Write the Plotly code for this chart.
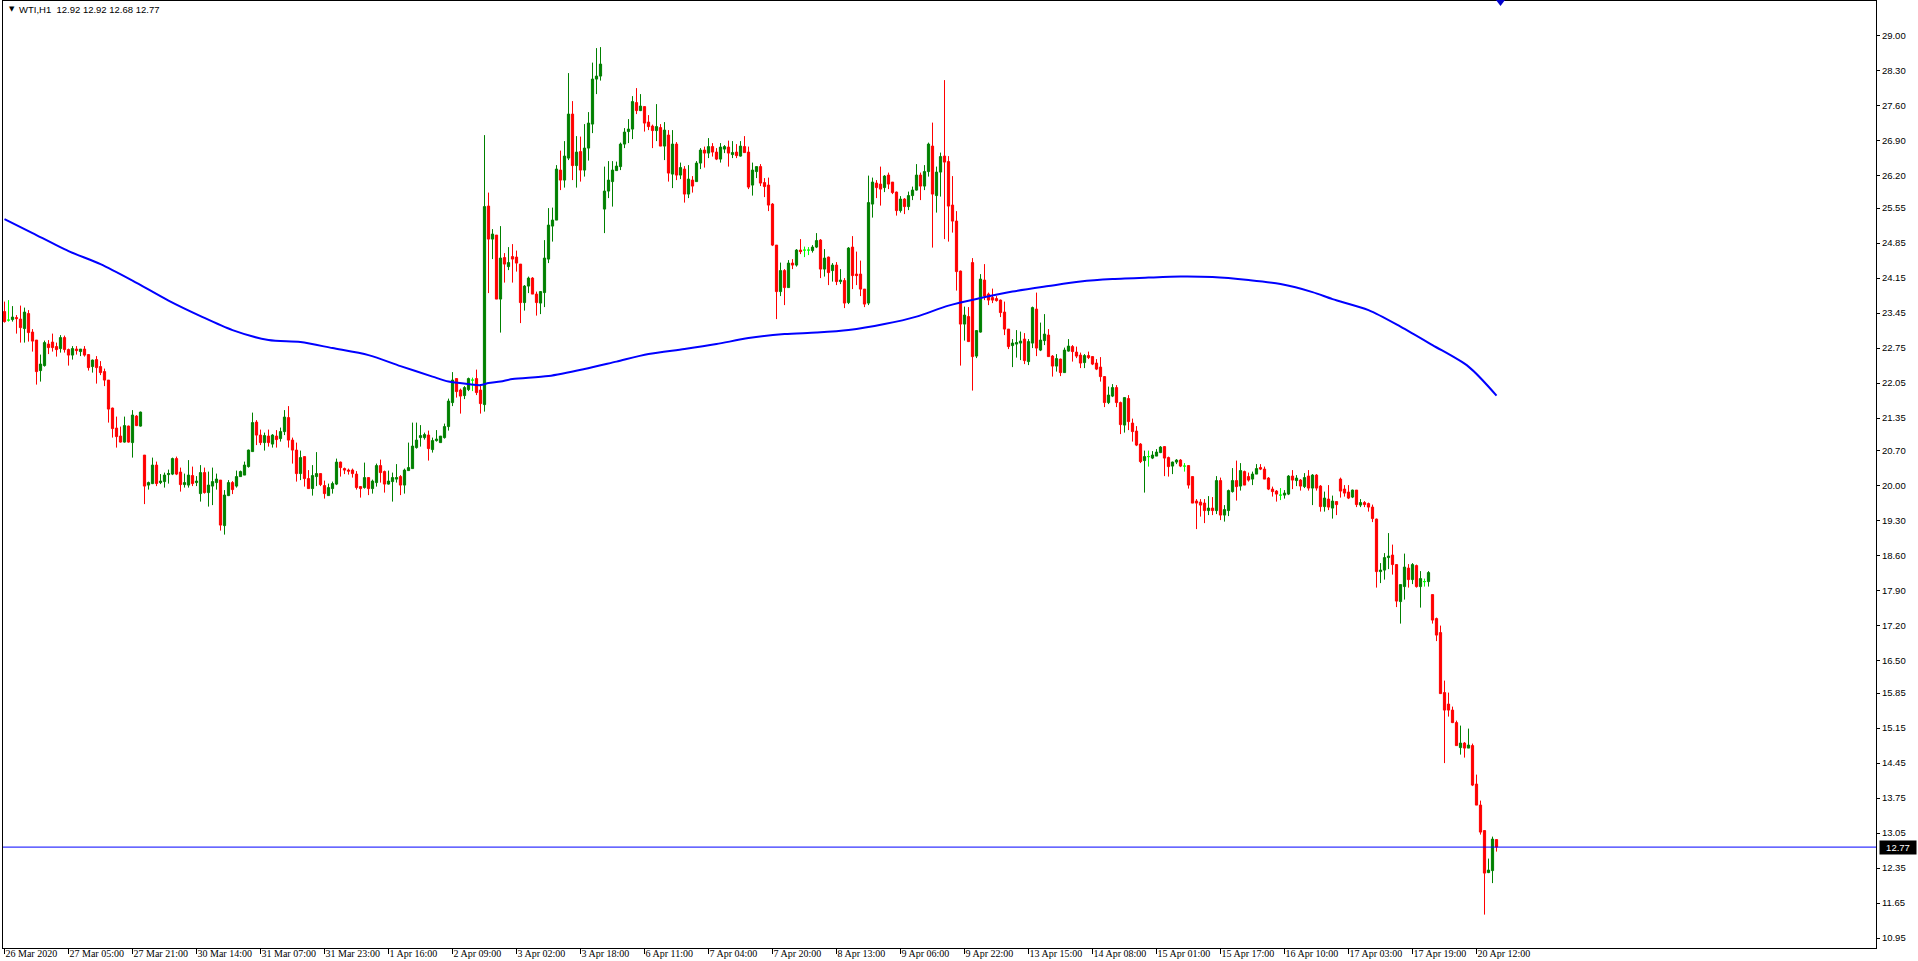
import plotly.graph_objects as go

symbol = "WTI,H1"

time_labels = ["26 Mar 2020", "27 Mar 05:00", "27 Mar 21:00", "30 Mar 14:00", "31 Mar 07:00",
               "31 Mar 23:00", "1 Apr 16:00", "2 Apr 09:00", "3 Apr 02:00", "3 Apr 18:00",
               "6 Apr 11:00", "7 Apr 04:00", "7 Apr 20:00", "8 Apr 13:00", "9 Apr 06:00",
               "9 Apr 22:00", "13 Apr 15:00", "14 Apr 08:00", "15 Apr 01:00", "15 Apr 17:00",
               "16 Apr 10:00", "17 Apr 03:00", "17 Apr 19:00", "20 Apr 12:00"]
time_label_bars = [0, 16, 32, 48, 64, 80, 96, 112, 128, 144, 160, 176, 192, 208, 224,
                   240, 256, 272, 288, 304, 320, 336, 352, 368]

price_ticks = [29.00, 28.30, 27.60, 26.90, 26.20, 25.55, 24.85, 24.15, 23.45, 22.75, 22.05,
               21.35, 20.70, 20.00, 19.30, 18.60, 17.90, 17.20, 16.50, 15.85, 15.15, 14.45,
               13.75, 13.05, 12.35, 11.65, 10.95]

opens = [
 23.48, 23.31, 23.32, 23.36, 23.33, 23.14, 23.44, 23.07, 22.91, 22.30,
 22.40, 22.83, 22.87, 22.78, 22.74, 22.96, 22.72, 22.61, 22.73, 22.68,
 22.73, 22.62, 22.38, 22.52, 22.38, 22.28, 22.11, 21.55, 21.15, 20.99,
 20.87, 21.19, 20.86, 21.39, 21.19, 20.61, 20.01, 20.04, 20.41, 20.06,
 20.08, 20.22, 20.23, 20.54, 20.27, 20.02, 20.01, 20.20, 20.06, 19.84,
 20.26, 19.86, 19.99, 20.06, 20.11, 19.20, 19.80, 20.06, 19.99, 20.18,
 20.21, 20.38, 20.68, 21.27, 21.01, 20.86, 20.99, 20.83, 20.99, 20.94,
 21.08, 21.36, 20.91, 20.71, 20.24, 20.58, 20.14, 19.94, 20.18, 20.24,
 20.00, 19.80, 19.94, 20.03, 20.47, 20.34, 20.31, 20.31, 20.23, 19.98,
 19.96, 20.16, 19.94, 20.06, 20.40, 20.28, 20.03, 20.08, 20.13, 20.18,
 20.01, 20.30, 20.34, 20.76, 20.96, 20.96, 21.01, 20.72, 20.90, 20.86,
 20.96, 21.18, 21.66, 22.14, 21.91, 21.80, 21.92, 22.11, 22.14, 21.91,
 21.62, 25.59, 24.93, 25.01, 23.73, 24.56, 24.38, 24.58, 24.57, 24.43,
 23.66, 23.99, 24.15, 23.83, 23.65, 23.86, 24.53, 25.19, 25.31, 26.31,
 26.11, 26.55, 27.43, 26.40, 26.68, 26.31, 26.75, 27.23, 28.13, 28.19,
 25.53, 25.89, 26.08, 26.30, 26.38, 26.83, 27.08, 27.13, 27.66, 27.50,
 27.58, 27.27, 27.19, 27.10, 27.16, 26.79, 27.01, 26.23, 26.83, 26.21,
 26.33, 25.83, 26.11, 26.08, 26.45, 26.71, 26.65, 26.78, 26.67, 26.53,
 26.73, 26.77, 26.62, 26.67, 26.59, 26.78, 26.67, 26.01, 26.28, 26.38,
 26.06, 26.01, 25.63, 24.81, 23.88, 24.30, 23.96, 24.45, 24.41, 24.71,
 24.71, 24.71, 24.70, 24.77, 24.91, 24.33, 24.57, 24.30, 24.41, 24.08,
 24.10, 23.66, 24.77, 24.23, 24.23, 23.93, 23.65, 25.63, 26.05, 26.03,
 25.96, 26.21, 26.07, 25.87, 25.50, 25.73, 25.58, 25.80, 25.91, 26.21,
 25.99, 26.28, 26.79, 25.80, 26.27, 26.59, 26.48, 25.61, 25.29, 24.29,
 23.23, 23.38, 24.46, 22.59, 23.07, 24.11, 23.83, 23.76, 23.74, 23.71,
 23.47, 23.13, 22.80, 22.83, 22.85, 22.93, 22.48, 22.85, 23.53, 22.71,
 22.90, 23.01, 22.59, 22.39, 22.53, 22.26, 22.69, 22.78, 22.67, 22.61,
 22.46, 22.60, 22.58, 22.45, 22.37, 22.18, 21.66, 21.79, 21.96, 21.66,
 21.21, 21.74, 21.25, 21.09, 20.83, 20.50, 20.58, 20.55, 20.59, 20.66,
 20.78, 20.56, 20.39, 20.47, 20.51, 20.39, 20.40, 20.18, 19.69, 19.67,
 19.65, 19.50, 19.55, 19.50, 20.10, 19.41, 19.50, 19.88, 20.10, 19.99,
 20.28, 20.18, 20.13, 20.23, 20.36, 20.33, 20.15, 19.93, 19.89, 19.81,
 19.81, 19.83, 20.19, 20.10, 20.11, 19.98, 20.19, 19.95, 20.21, 19.99,
 19.58, 19.73, 19.55, 19.68, 20.13, 19.93, 19.87, 19.77, 19.91, 19.61,
 19.66, 19.64, 19.57, 19.33, 18.28, 18.31, 18.56, 18.61, 18.42, 17.68,
 17.98, 18.35, 18.12, 18.40, 17.98, 18.08, 18.08, 17.82, 17.34, 17.06,
 15.86, 15.63, 15.51, 15.26, 14.76, 14.85, 14.75, 14.80, 14.03, 13.61,
 13.10, 12.26, 12.30, 12.92]

highs = [
 23.68, 23.71, 23.59, 23.41, 23.60, 23.56, 23.51, 23.13, 22.91, 22.62,
 22.90, 22.91, 23.04, 22.86, 23.01, 23.00, 22.74, 22.79, 22.79, 22.73,
 22.79, 22.63, 22.52, 22.59, 22.49, 22.34, 22.11, 21.56, 21.38, 21.18,
 21.38, 21.20, 21.51, 21.41, 21.48, 20.61, 20.08, 20.56, 20.48, 20.23,
 20.26, 20.32, 20.56, 20.58, 20.36, 20.24, 20.51, 20.38, 20.19, 20.41,
 20.36, 20.28, 20.36, 20.24, 20.11, 19.91, 20.11, 20.09, 20.30, 20.30,
 20.48, 20.72, 21.46, 21.31, 21.12, 21.06, 21.12, 21.03, 21.11, 21.16,
 21.51, 21.59, 20.96, 20.86, 20.70, 20.58, 20.31, 20.41, 20.67, 20.24,
 20.10, 20.04, 20.08, 20.54, 20.48, 20.36, 20.34, 20.34, 20.29, 19.99,
 20.46, 20.16, 20.12, 20.44, 20.52, 20.30, 20.30, 20.26, 20.43, 20.21,
 20.34, 20.86, 21.26, 21.26, 21.21, 21.06, 21.10, 20.96, 21.11, 20.99,
 21.24, 21.74, 22.27, 22.14, 21.94, 21.99, 22.16, 22.16, 22.32, 22.01,
 27.01, 25.86, 25.13, 25.01, 25.19, 24.65, 24.77, 24.83, 24.70, 24.43,
 24.01, 24.18, 24.17, 23.88, 23.89, 24.91, 25.55, 25.56, 26.41, 26.70,
 26.89, 28.25, 27.69, 26.99, 26.98, 27.23, 27.47, 28.46, 28.75, 28.77,
 26.38, 26.49, 26.49, 26.48, 26.86, 27.15, 27.33, 27.79, 27.95, 27.83,
 27.58, 27.41, 27.22, 27.63, 27.23, 27.27, 27.11, 27.11, 26.87, 26.46,
 26.39, 26.41, 26.19, 26.49, 26.75, 26.78, 26.95, 26.85, 26.75, 26.85,
 26.81, 26.90, 26.89, 26.83, 26.89, 26.99, 26.78, 26.46, 26.38, 26.43,
 26.15, 26.16, 25.65, 24.81, 24.46, 24.33, 24.51, 24.53, 24.73, 24.93,
 24.78, 24.77, 24.81, 25.05, 24.93, 24.73, 24.58, 24.45, 24.47, 24.33,
 24.15, 24.77, 24.99, 24.68, 24.50, 23.93, 26.20, 26.16, 26.11, 26.38,
 26.21, 26.26, 26.07, 25.88, 25.79, 25.75, 25.88, 25.98, 26.43, 26.26,
 26.41, 26.86, 27.26, 26.38, 26.66, 28.11, 26.59, 26.19, 25.49, 24.30,
 23.58, 23.57, 24.55, 23.11, 24.23, 24.43, 23.86, 23.94, 23.79, 23.72,
 23.68, 23.13, 22.93, 23.11, 23.08, 23.05, 22.93, 23.58, 23.86, 23.26,
 23.43, 23.13, 22.61, 22.63, 22.54, 22.76, 22.93, 22.81, 22.78, 22.66,
 22.63, 22.68, 22.59, 22.53, 22.57, 22.19, 21.98, 22.03, 22.01, 21.68,
 21.76, 21.81, 21.34, 21.19, 20.85, 20.70, 20.70, 20.69, 20.73, 20.79,
 20.79, 20.58, 20.48, 20.53, 20.53, 20.45, 20.41, 20.18, 19.73, 19.73,
 19.73, 19.79, 19.77, 20.19, 20.16, 19.61, 19.92, 20.35, 20.50, 20.45,
 20.30, 20.26, 20.28, 20.43, 20.43, 20.38, 20.17, 19.98, 19.91, 19.95,
 19.91, 20.21, 20.31, 20.21, 20.13, 20.25, 20.31, 20.23, 20.23, 20.01,
 19.88, 20.01, 19.80, 19.68, 20.16, 20.01, 20.01, 19.92, 19.91, 19.73,
 19.69, 19.66, 19.62, 19.34, 18.45, 18.65, 19.05, 18.82, 18.43, 18.02,
 18.64, 18.43, 18.45, 18.42, 18.29, 18.14, 18.29, 17.82, 17.36, 17.20,
 16.10, 15.86, 15.58, 15.30, 15.20, 14.87, 15.14, 14.84, 14.22, 13.70,
 13.10, 12.54, 12.98, 12.92]

lows = [
 23.26, 23.28, 23.28, 23.04, 22.86, 22.86, 22.88, 22.68, 22.02, 22.08,
 22.38, 22.63, 22.68, 22.58, 22.66, 22.66, 22.40, 22.52, 22.62, 22.59,
 22.58, 22.30, 22.26, 22.04, 22.21, 21.99, 21.26, 20.96, 20.76, 20.86,
 20.86, 20.86, 20.56, 21.19, 21.18, 19.63, 19.92, 20.03, 19.99, 20.03,
 19.96, 20.04, 20.21, 20.21, 19.88, 19.96, 19.96, 19.99, 19.99, 19.68,
 19.84, 19.58, 19.61, 19.92, 19.10, 19.02, 19.79, 19.83, 19.96, 20.18,
 20.21, 20.36, 20.68, 20.81, 20.81, 20.70, 20.78, 20.76, 20.76, 20.88,
 21.01, 20.76, 20.44, 20.08, 20.11, 19.98, 19.94, 19.80, 19.99, 19.99,
 19.74, 19.80, 19.84, 20.01, 20.18, 20.23, 20.22, 20.16, 19.92, 19.76,
 19.94, 19.81, 19.84, 19.98, 20.06, 19.86, 20.02, 19.68, 20.06, 19.81,
 19.84, 20.30, 20.34, 20.74, 20.78, 20.92, 20.50, 20.66, 20.88, 20.86,
 20.94, 21.10, 21.59, 21.76, 21.44, 21.73, 21.89, 21.89, 21.81, 21.44,
 21.48, 23.85, 24.53, 23.73, 23.06, 24.06, 24.31, 24.06, 24.28, 23.25,
 23.50, 23.85, 23.83, 23.40, 23.43, 23.57, 24.45, 24.88, 25.31, 25.91,
 25.96, 26.51, 26.11, 25.96, 26.08, 26.18, 26.50, 27.05, 27.83, 28.10,
 25.05, 25.75, 25.58, 26.30, 26.31, 26.75, 26.85, 26.93, 27.43, 27.49,
 27.08, 27.11, 26.75, 26.89, 26.79, 26.51, 26.08, 25.95, 26.11, 26.13,
 25.66, 25.75, 25.86, 26.08, 26.33, 26.36, 26.55, 26.58, 26.51, 26.46,
 26.65, 26.38, 26.55, 26.55, 26.58, 26.66, 25.93, 25.80, 26.15, 25.99,
 25.77, 25.49, 24.79, 23.33, 23.79, 23.61, 23.96, 24.33, 24.38, 24.63,
 24.57, 24.61, 24.66, 24.75, 24.15, 24.18, 24.01, 24.08, 24.01, 24.03,
 23.55, 23.63, 23.93, 24.01, 23.79, 23.57, 23.61, 25.36, 25.75, 25.60,
 25.87, 25.93, 25.83, 25.40, 25.46, 25.43, 25.51, 25.71, 25.90, 25.71,
 25.91, 26.18, 24.76, 25.46, 25.78, 24.93, 24.88, 25.06, 23.90, 22.40,
 22.90, 22.88, 21.90, 22.55, 23.06, 23.71, 23.61, 23.65, 23.68, 23.37,
 23.01, 22.73, 22.37, 22.56, 22.51, 22.43, 22.41, 22.75, 22.59, 22.69,
 22.81, 22.58, 22.18, 22.28, 22.19, 22.26, 22.68, 22.48, 22.55, 22.35,
 22.35, 22.53, 22.41, 22.31, 22.08, 21.57, 21.63, 21.77, 21.57, 21.03,
 21.06, 21.11, 20.88, 20.79, 20.45, 19.86, 20.38, 20.53, 20.59, 20.65,
 20.19, 20.18, 20.23, 20.43, 20.37, 20.28, 19.94, 19.65, 19.13, 19.38,
 19.25, 19.41, 19.41, 19.43, 19.31, 19.28, 19.39, 19.86, 19.70, 19.90,
 20.01, 20.08, 20.01, 20.23, 20.31, 20.13, 19.91, 19.78, 19.68, 19.71,
 19.74, 19.81, 19.93, 19.99, 19.90, 19.95, 19.90, 19.61, 19.90, 19.48,
 19.48, 19.51, 19.34, 19.41, 19.76, 19.78, 19.73, 19.75, 19.57, 19.57,
 19.57, 19.48, 19.27, 17.96, 18.05, 18.12, 18.33, 18.22, 17.57, 17.24,
 17.72, 17.96, 18.03, 17.96, 17.56, 17.98, 17.98, 17.24, 16.89, 15.84,
 14.45, 15.38, 15.25, 14.80, 14.62, 14.56, 14.75, 13.99, 13.61, 13.02,
 11.42, 12.25, 12.05, 12.68]

closes = [
 23.28, 23.31, 23.37, 23.34, 23.16, 23.47, 23.06, 22.89, 22.28, 22.43,
 22.86, 22.76, 22.76, 22.72, 22.96, 22.72, 22.61, 22.74, 22.70, 22.73,
 22.61, 22.36, 22.51, 22.36, 22.26, 22.11, 21.53, 21.14, 20.98, 20.87,
 21.20, 20.87, 21.41, 21.20, 21.47, 19.99, 20.06, 20.41, 20.04, 20.09,
 20.21, 20.24, 20.54, 20.23, 20.02, 20.06, 20.21, 20.04, 20.09, 20.26,
 19.86, 20.01, 20.08, 20.13, 19.21, 19.81, 20.06, 19.92, 20.18, 20.28,
 20.41, 20.71, 21.26, 21.01, 20.86, 21.00, 20.86, 21.01, 20.92, 21.08,
 21.37, 20.91, 20.71, 20.24, 20.56, 20.14, 19.94, 20.20, 20.24, 20.02,
 19.84, 19.96, 20.04, 20.47, 20.36, 20.31, 20.29, 20.24, 19.96, 19.94,
 20.16, 19.94, 20.09, 20.40, 20.26, 20.03, 20.09, 20.16, 20.16, 20.01,
 20.31, 20.36, 20.79, 20.91, 21.00, 21.02, 20.74, 20.90, 20.93, 20.99,
 21.18, 21.69, 22.11, 21.88, 21.79, 21.96, 22.14, 22.11, 21.86, 21.64,
 25.58, 24.93, 25.03, 23.73, 24.55, 24.43, 24.46, 24.53, 24.45, 23.66,
 23.99, 24.15, 23.83, 23.66, 23.88, 24.55, 25.21, 25.31, 26.33, 26.11,
 26.59, 27.43, 26.40, 26.67, 26.31, 26.75, 27.25, 28.13, 28.19, 28.43,
 25.89, 26.11, 26.31, 26.39, 26.83, 27.07, 27.13, 27.68, 27.50, 27.59,
 27.25, 27.18, 27.10, 27.18, 26.79, 27.11, 26.25, 26.83, 26.21, 26.36,
 25.83, 26.13, 25.99, 26.45, 26.71, 26.65, 26.78, 26.67, 26.53, 26.77,
 26.78, 26.65, 26.66, 26.60, 26.79, 26.66, 25.97, 26.31, 26.38, 26.05,
 25.98, 25.61, 24.81, 23.88, 24.30, 23.96, 24.45, 24.41, 24.71, 24.68,
 24.71, 24.71, 24.77, 24.90, 24.33, 24.55, 24.26, 24.41, 24.08, 24.11,
 23.65, 24.75, 24.20, 24.20, 23.93, 23.63, 25.66, 26.07, 25.96, 25.93,
 26.19, 26.03, 25.86, 25.50, 25.73, 25.58, 25.80, 25.91, 26.21, 25.99,
 26.28, 26.83, 25.83, 26.27, 26.58, 26.47, 25.59, 25.29, 24.28, 23.23,
 23.41, 22.88, 22.58, 23.10, 24.13, 23.79, 23.71, 23.71, 23.70, 23.46,
 23.13, 22.78, 22.85, 22.86, 22.89, 22.50, 22.88, 23.56, 22.75, 22.91,
 23.03, 22.58, 22.39, 22.54, 22.26, 22.71, 22.79, 22.68, 22.59, 22.45,
 22.60, 22.56, 22.43, 22.33, 22.18, 21.66, 21.81, 21.96, 21.66, 21.22,
 21.76, 21.28, 21.08, 20.81, 20.48, 20.58, 20.58, 20.61, 20.67, 20.77,
 20.55, 20.38, 20.47, 20.51, 20.39, 20.39, 20.01, 19.65, 19.65, 19.61,
 19.50, 19.55, 19.50, 20.10, 19.41, 19.52, 19.90, 20.10, 19.98, 20.30,
 20.01, 20.11, 20.23, 20.34, 20.33, 20.13, 19.93, 19.88, 19.83, 19.81,
 19.85, 20.19, 20.11, 20.15, 19.99, 20.16, 19.95, 20.21, 19.95, 19.58,
 19.75, 19.57, 19.69, 19.62, 19.89, 19.85, 19.75, 19.91, 19.62, 19.66,
 19.62, 19.57, 19.34, 18.28, 18.31, 18.56, 18.59, 18.42, 17.69, 18.02,
 18.37, 18.12, 18.42, 17.98, 18.14, 18.08, 18.26, 17.31, 17.01, 15.84,
 15.51, 15.51, 15.26, 14.80, 14.85, 14.75, 14.81, 14.01, 13.61, 13.07,
 12.25, 12.31, 12.93, 12.77]

# 200-period moving average (bar index, value)
ma_bars = [0, 7, 16, 24, 32, 41, 49, 57, 66, 74, 82, 91, 99, 107, 111, 116, 119, 121, 124,
           127, 136, 145, 153, 161, 170, 178, 186, 195, 203, 211, 220, 228, 236, 244, 252,
           261, 269, 277, 286, 294, 302, 311, 319, 327, 332, 341, 349, 357, 366, 373]
ma_values = [25.33, 25.05, 24.69, 24.43, 24.10, 23.70, 23.39, 23.11, 22.91, 22.87, 22.75,
             22.61, 22.39, 22.18, 22.08, 22.03, 22.01, 22.05, 22.08, 22.13, 22.19, 22.33,
             22.48, 22.63, 22.73, 22.83, 22.95, 23.03, 23.06, 23.11, 23.23, 23.38, 23.60,
             23.75, 23.88, 23.99, 24.08, 24.13, 24.16, 24.18, 24.17, 24.11, 24.03, 23.87,
             23.73, 23.51, 23.18, 22.81, 22.38, 21.80]

# ---------------------------------------------------------------------------
W, H = 1918, 961
ML, MR, MT, MB = 3, 42, 1, 13
BAR_PX = 4.0
FIRST_BAR_PX = 4.5
PX_PER_UNIT = 50.0

plot_w = W - ML - MR
plot_h = H - MT - MB
x0 = -(FIRST_BAR_PX - ML) / BAR_PX
x1 = x0 + plot_w / BAR_PX
y_ref_px, y_ref_val = 485.6, 20.0
y_top = y_ref_val + (y_ref_px - MT) / PX_PER_UNIT
y_bot = y_top - plot_h / PX_PER_UNIT

n = len(closes)
idx = list(range(n))
reg = [i for i in idx if opens[i] != closes[i]]
doj = [i for i in idx if opens[i] == closes[i]]

GREEN, RED, LIME, BLUE = "#008000", "#ff0000", "#00ff00", "#0000ff"

fig = go.Figure()
fig.add_trace(go.Candlestick(
    x=reg,
    open=[opens[i] for i in reg], high=[highs[i] for i in reg],
    low=[lows[i] for i in reg], close=[closes[i] for i in reg],
    increasing=dict(line=dict(color=GREEN, width=1), fillcolor=GREEN),
    decreasing=dict(line=dict(color=RED, width=1), fillcolor=RED),
    whiskerwidth=0, hoverinfo="skip", name=symbol))
fig.add_trace(go.Candlestick(
    x=doj,
    open=[opens[i] for i in doj], high=[highs[i] for i in doj],
    low=[lows[i] for i in doj], close=[closes[i] for i in doj],
    increasing=dict(line=dict(color=LIME, width=1), fillcolor=LIME),
    decreasing=dict(line=dict(color=LIME, width=1), fillcolor=LIME),
    whiskerwidth=0, hoverinfo="skip", name=symbol))
fig.add_trace(go.Scatter(x=ma_bars, y=ma_values, mode="lines",
                         line=dict(color=BLUE, width=2, shape="spline", smoothing=0.8),
                         hoverinfo="skip", name="MA"))

fig.add_hline(y=closes[-1], line=dict(color=BLUE, width=1))

tick_font_x = dict(family="Liberation Sans Narrow", size=10, color="black")
tick_font_y = dict(family="Liberation Sans", size=9.5, color="black")

fig.update_layout(
    width=W, height=H,
    margin=dict(l=ML, r=MR, t=MT, b=MB, pad=0),
    paper_bgcolor="white", plot_bgcolor="white",
    showlegend=False,
    boxgap=0.45, boxgroupgap=0,
    xaxis=dict(
        range=[x0, x1], type="linear", rangeslider=dict(visible=False),
        tickmode="array", tickvals=time_label_bars, ticktext=time_labels,
        ticks="outside", ticklen=5, tickwidth=1, tickcolor="black",
        ticklabelposition="outside right", ticklabelstandoff=-4,
        showline=True, linecolor="black", linewidth=1, mirror=True,
        showgrid=False, zeroline=False, tickfont=tick_font_x, automargin=False,
    ),
    yaxis=dict(
        range=[y_bot, y_top], side="right",
        tickmode="array", tickvals=price_ticks, ticktext=[f"{v:.2f}" for v in price_ticks],
        ticks="outside", ticklen=3, tickwidth=1, tickcolor="black",
        showline=True, linecolor="black", linewidth=1, mirror=True,
        showgrid=False, zeroline=False, tickfont=tick_font_y, automargin=False,
    ),
)

# header text
fig.add_annotation(xref="paper", yref="paper", x=0, y=1, xanchor="left", yanchor="top",
                   xshift=4, yshift=-2, text="▼", showarrow=False,
                   font=dict(family="DejaVu Sans", size=7, color="black"))
fig.add_annotation(xref="paper", yref="paper", x=0, y=1, xanchor="left", yanchor="top",
                   xshift=14, yshift=-1,
                   text=f"{symbol}  {opens[-1]:.2f} {highs[-1]:.2f} {lows[-1]:.2f} {closes[-1]:.2f}",
                   showarrow=False, font=dict(family="Liberation Sans", size=9.5, color="black"))

# current price label on the price scale
fig.add_annotation(xref="paper", yref="y", x=1, y=closes[-1], xanchor="left", yanchor="middle",
                   xshift=3, text=f"{closes[-1]:.2f}", showarrow=False, width=34, height=11,
                   align="center", bgcolor="black", borderpad=1,
                   font=dict(family="Liberation Sans", size=9.5, color="white"))

# chart-shift marker at the top
fig.add_shape(type="path", xref="x", yref="paper", xsizemode="pixel", ysizemode="pixel",
              xanchor=n, yanchor=1, path="M -4.5 1 L 4.5 1 L 0 -5 Z",
              fillcolor="#0000cc", line=dict(color="#0000cc", width=0))

fig.write_html("out.html",
               config={"displayModeBar": False},
               post_script="document.body.style.margin='0';document.body.style.padding='0';"
                           "document.body.style.overflow='hidden';")
